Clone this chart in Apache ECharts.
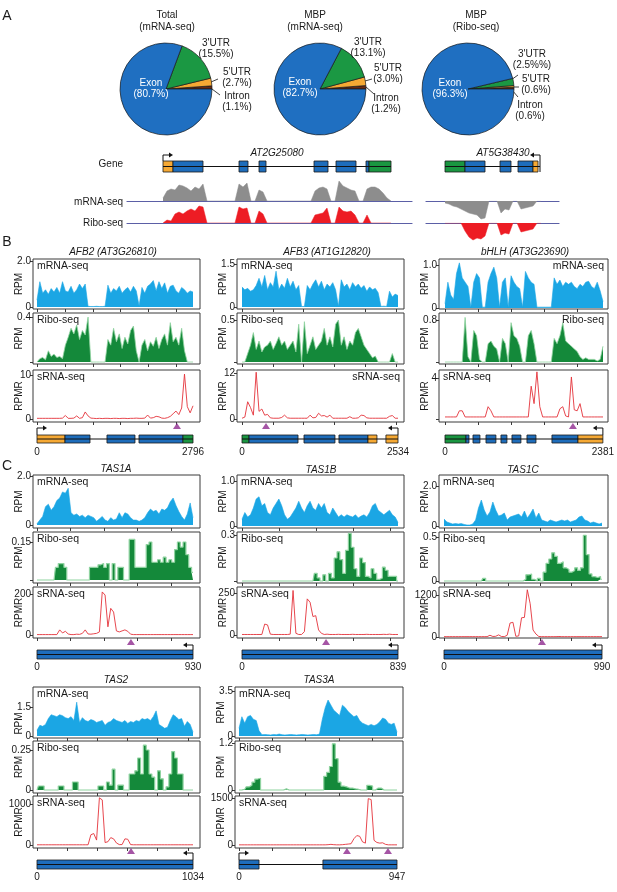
<!DOCTYPE html>
<html>
<head>
<meta charset="utf-8">
<title>Footprint coverage</title>
<script src="https://cdn.jsdelivr.net/npm/echarts@6.0.0/dist/echarts.min.js"></script>
<style>
  html, body { margin: 0; padding: 0; background: #fff; }
  #chart { width: 617px; height: 892px; }
</style>
</head>
<body>
<div id="chart"></div>
<script>
const FONT = '"Liberation Sans", Arial, Helvetica, sans-serif';

// ---- A: read fractions (%), order: Intron, 5'UTR, 3'UTR, Exon
const pieSlices = ['Intron', "5'UTR", "3'UTR", 'Exon'];
const pieTotal = [1.1, 2.7, 15.5, 80.7];
const pieMbpMrna = [1.2, 3.0, 13.1, 82.7];
const pieMbpRibo = [0.6, 0.6, 2.5, 96.3];

// ---- A: coverage of the two example genes, bins of 40 units
const at2g25080Mrna = [3, 10, 12, 11, 16, 15, 13, 10, 14, 12, 17, 0, 0, 0, 0, 0, 0, 0, 0, 17, 14, 18, 0, 0, 11, 9,
  0, 0, 0, 0, 0, 0, 0, 0, 0, 0, 0, 0, 10, 13, 14, 12, 0, 0, 20, 15, 13, 11, 10, 0, 0, 12, 14, 14, 12, 8, 3, 0];
const at2g25080Ribo = [0, 3, 2, 9, 11, 9, 12, 14, 12, 17, 16, 0, 0, 0, 0, 0, 0, 0, 0, 16, 14, 15, 0, 0, 12, 9,
  0, 0, 0, 0, 0, 0, 0, 0, 0, 0, 0, 0, 8, 9, 10, 15, 0, 0, 16, 12, 11, 12, 8, 0, 0, 8, 0, 0, 0, 0, 0, 0];
const at5g38430Mrna = [2, 3, 5, 6, 8, 10, 12, 13, 14, 18, 17, 0, 0, 0, 12, 8, 9, 0, 0, 8, 7, 6, 5, 0, 0];
const at5g38430Ribo = [0, 0, 0, 0, 0, 8, 14, 17, 15, 16, 13, 0, 0, 0, 12, 10, 11, 0, 0, 9, 8, 7, 6, 0, 0];
const at2g25080Exons = [[0, 100, 'utr5'], [100, 400, 'cds'], [760, 850, 'cds'], [960, 1030, 'cds'], [1510, 1650, 'cds'],
  [1730, 1930, 'cds'], [2030, 2060, 'cds'], [2060, 2280, 'utr3']];
const at5g38430Exons = [[0, 200, 'utr3'], [200, 400, 'cds'], [550, 660, 'cds'], [730, 880, 'cds'], [880, 930, 'utr5']];

// ---- B: AFB2, AFB3, bHLH (56 bins over the transcript)
const afb2Mrna = [0.3, 1.1, 0.6, 0.75, 0.55, 0.8, 0.65, 0.85, 0.6, 1.1, 0.7, 0.65, 0.9, 0.6, 0.75, 1.0, 0.8, 1.0,
  0.03, 0.02, 0.02, 0.03, 0.02, 0.02, 0.03, 0.95, 0.6, 0.8, 0.7, 0.9, 0.6, 0.75, 0.85, 0.65, 0.9, 0.7, 0.05,
  0.85, 0.6, 0.9, 1.0, 1.15, 0.7, 1.1, 0.8, 1.05, 0.6, 0.9, 0.95, 0.7, 0.6, 0.85, 0.75, 0.6, 0.7, 0.65];
const afb2Ribo = [0, 0.03, 0.04, 0.02, 0.1, 0.05, 0.07, 0.04, 0.05, 0.03, 0.15, 0.22, 0.3, 0.25, 0.33, 0.2, 0.28, 0.24, 0.4,
  0, 0, 0, 0, 0, 0, 0.2, 0.15, 0.3, 0.18, 0.25, 0.12, 0.22, 0.16, 0.28, 0.32, 0.1, 0,
  0.15, 0.2, 0.1, 0.18, 0.14, 0.22, 0.12, 0.2, 0.25, 0.15, 0.35, 0.18, 0.22, 0.15, 0.3, 0.1, 0, 0, 0];
const afb2Srna = [0.15, 0.15, 0.15, 0.15, 0.15, 0.15, 0.15, 0.15, 0.15, 0.2, 0.8, 0.15, 0.15, 0.2, 0.7, 0.15, 0.3, 1.6, 0.7, 0.2,
  0.15, 0.1, 0.15, 0.1, 0.15, 0.15, 0.1, 0.15, 0.15, 0.1, 0.15, 0.15, 0.1, 0.15, 0.15, 0.2, 0.15, 0.15, 0.2,
  0.9, 0.2, 0.3, 0.6, 0.5, 0.2, 0.15, 0.3, 0.6, 1.2, 1.8, 1.0, 2.5, 10.2, 2.8, 1.4, 3.0];
const afb3Mrna = [0.7, 0.6, 0.65, 0.55, 0.6, 0.75, 1.0, 0.7, 1.1, 0.6, 0.85, 0.7, 1.25, 0.6, 0.8, 0.65, 1.0, 0.7, 0.9, 0.6, 0.75,
  0.02, 0.02, 0.75, 0.6, 0.8, 0.95, 0.7, 0.9, 0.6, 0.8, 0.7, 0.85, 0.6, 0.03,
  0.95, 0.7, 0.8, 0.6, 0.85, 0.7, 0.8, 0.65, 0.75, 0.55, 0.7, 0.6, 0.65, 0.5, 0.02, 0.03, 0.02, 0.55, 0.35, 0.45, 0.4];
const afb3Ribo = [0, 0, 0.1, 0.2, 0.35, 0.15, 0.25, 0.12, 0.18, 0.2, 0.25, 0.15, 0.22, 0.3, 0.2, 0.25, 0.15, 0.2, 0.25, 0.12, 0.45,
  0, 0.48, 0.1, 0.2, 0.3, 0.15, 0.2, 0.25, 0.4, 0.2, 0.3, 0.18, 0.45, 0.5,
  0.2, 0.3, 0.15, 0.25, 0.2, 0.35, 0.4, 0.3, 0.2, 0.15, 0.1, 0.05, 0.07, 0, 0, 0, 0, 0, 0.1, 0, 0];
const afb3Srna = [0.2, 0.5, 4.5, 3.0, 1.0, 12.2, 2.0, 2.6, 1.0, 1.2, 0.3, 0.2, 0.2, 0.2, 0.4, 1.0, 0.3,
  0.2, 0.2, 0.2, 0.2, 0.2, 0.2, 0.2, 1.0, 0.3, 0.4, 1.5, 0.8, 0.9, 0.5, 1.0, 0.2,
  0.2, 0.2, 0.2, 0.2, 0.2, 0.6, 0.2, 0.2, 0.3, 1.0, 0.9, 0.3, 0.2, 0.2, 0.2, 0.2, 0.2, 0.2, 0.2, 0.7, 0.9, 0.2, 0.2];
const bhlhMrna = [0.1, 0.6, 0.3, 0.2, 0.8, 1.05, 0.7, 0.6, 0.5, 0.02, 0.6, 0.8, 0.7, 0.02, 0.02, 0.6, 0.8, 0.95, 0.7, 0.02,
  0.6, 0.7, 0.02, 0.75, 0.6, 0.5, 0.45, 0.02, 0.85, 0.7, 0.6, 0.55, 0.02, 0.02, 0.02, 0.02, 0.02, 0.02,
  0.7, 0.55, 0.65, 0.5, 0.6, 0.55, 0.6, 0.5, 0.45, 0.55, 0.5, 0.6, 0.62, 0.5, 0.45, 0.6, 0.4, 0.15];
const bhlhRibo = [0, 0, 0, 0, 0, 0, 0, 0.85, 0.1, 0, 0.6, 0.5, 0.05, 0, 0, 0.35, 0.4, 0.3, 0.25, 0, 0.45, 0.35, 0,
  0.75, 0.5, 0.45, 0.3, 0, 0, 0.5, 0.6, 0.35, 0, 0, 0, 0, 0, 0,
  0.45, 0.35, 0.5, 0.75, 0.4, 0.35, 0.3, 0.25, 0.2, 0.1, 0.05, 0.08, 0.05, 0.05, 0.05, 0.02, 0.05, 0.3];
const bhlhSrna = [0.2, 0.2, 0.2, 0.2, 0.2, 0.8, 0.8, 0.2, 0.2, 0.2, 0.2, 0.2, 0.2, 0.2, 0.2, 1.2, 0.8, 0.2,
  0.2, 0.2, 0.2, 0.2, 0.2, 0.2, 0.2, 0.2, 0.2, 0.2, 0.2, 0.2, 3.2, 1.5, 4.6, 1.2, 0.2,
  0.2, 0.2, 0.2, 0.2, 0.2, 1.0, 1.2, 0.3, 0.2, 4.1, 0.9, 0.8, 1.5, 0.2, 0.2, 0.2, 0.2, 0.2, 0.2, 0.2, 0.2];
const afb2Exons = [[0, 502, 'utr5'], [502, 950, 'cds'], [1254, 1756, 'cds'], [1828, 2616, 'cds'], [2616, 2796, 'utr3']];
const afb3Exons = [[0, 114, 'utr3'], [114, 910, 'cds'], [1007, 1510, 'cds'], [1575, 2046, 'cds'], [2046, 2192, 'utr5'], [2338, 2534, 'utr5']];
const bhlhExons = [[0, 316, 'utr3'], [316, 362, 'cds'], [422, 527, 'cds'], [618, 768, 'cds'], [844, 934, 'cds'],
  [1010, 1145, 'cds'], [1236, 1372, 'cds'], [1613, 2005, 'cds'], [2005, 2381, 'utr5']];
const afb2Sites = [2509];
const afb3Sites = [390];
const bhlhSites = [1929];

// ---- C: TAS loci
const tas1aMrna = [0.05, 0.2, 0.35, 0.75, 0.85, 0.6, 0.75, 1.0, 1.1, 1.35, 1.3, 1.5, 0.5, 0.4, 0.45, 0.35, 0.4, 0.3, 0.4, 0.35,
  0.3, 0.15, 0.25, 0.35, 0.2, 0.15, 0.3, 0.2, 0.25, 0.5, 0.3, 0.5, 0.45, 0.3, 0.2, 0.2, 0.15, 0.2, 0.3, 0.5,
  0.65, 0.55, 0.6, 0.45, 0.65, 0.6, 0.7, 0.95, 1.1, 0.8, 0.55, 0.35, 0.2, 0.45, 0.9, 0.3];
const tas1aRibo = [0, 0, 0, 0, 0, 0, 0, 0.05, 0.065, 0.065, 0.05, 0, 0, 0, 0, 0, 0, 0, 0,
  0.05, 0.05, 0.05, 0.06, 0.065, 0.05, 0.065, 0, 0.065, 0, 0.05, 0.05, 0, 0, 0.16, 0.16, 0.05, 0.05, 0.05, 0.05,
  0.14, 0.15, 0.07, 0.07, 0.08, 0.07, 0.09, 0.07, 0.08, 0.07, 0.12, 0.15, 0.13, 0.15, 0.1, 0.05, 0.03];
const tas1aSrna = [2, 2, 2, 2, 2, 2, 2, 2, 25, 10, 18, 5, 2, 2, 4, 3, 8, 25, 5, 4, 6, 8, 15, 210, 195, 40, 130, 112, 20, 15,
  20, 25, 18, 4, 2, 2, 2, 2, 2, 2, 2, 2, 2, 2, 2, 2, 2, 2, 2, 2, 2, 2, 2, 2, 2, 2];
const tas1bMrna = [0.15, 0.3, 0.2, 0.25, 0.4, 0.6, 0.65, 0.45, 0.5, 0.3, 0.25, 0.4, 0.5, 0.6, 0.45, 0.25, 0.15, 0.2, 0.3, 0.4,
  0.55, 0.4, 0.3, 0.45, 0.55, 0.4, 0.35, 0.5, 0.4, 0.5, 0.3, 0.25, 0.4, 0.3, 0.2, 0.25, 0.2, 0.25, 0.22, 0.2,
  0.25, 0.18, 0.22, 0.25, 0.2, 0.3, 0.45, 0.5, 0.35, 0.3, 0.25, 0.3, 0.35, 0.25, 0.2, 0.08];
const tas1bRibo = [0, 0, 0, 0, 0, 0, 0, 0, 0, 0, 0, 0, 0, 0, 0, 0, 0, 0, 0, 0, 0, 0, 0, 0, 0, 0,
  0.05, 0.02, 0, 0.04, 0, 0.05, 0.02, 0.15, 0.19, 0.14, 0.05, 0.2, 0.31, 0.22, 0.08, 0.03, 0.15, 0.12, 0.03, 0.02,
  0.08, 0.05, 0.01, 0.02, 0.09, 0.07, 0.03, 0.03, 0.03, 0];
const tas1bSrna = [3, 3, 3, 3, 3, 3, 3, 3, 65, 60, 5, 3, 3, 3, 3, 3, 3, 5, 265, 10, 3, 3, 20, 215, 195, 110, 115, 30, 10, 3, 5,
  3, 3, 3, 4, 3, 3, 3, 3, 4, 3, 3, 3, 3, 4, 3, 3, 3, 3, 3, 4, 3, 5, 3, 3, 3];
const tas1cMrna = [0.35, 0.2, 0.15, 0.1, 0.12, 0.1, 0.12, 0.08, 0.05, 0.05, 0.1, 0.3, 0.9, 1.3, 0.8, 0.5, 0.7, 1.2, 0.8, 0.5,
  0.55, 0.65, 0.3, 0.45, 0.5, 0.55, 0.6, 0.45, 0.75, 0.4, 0.6, 0.85, 0.4, 0.65, 0.3, 0.25, 0.2, 0.3, 0.25, 0.2,
  0.25, 0.3, 0.25, 0.3, 0.2, 0.25, 0.3, 0.45, 0.5, 0.3, 0.25, 0.15, 0.2, 0.15, 0.1, 0.15];
const tas1cRibo = [0, 0, 0, 0, 0, 0, 0, 0, 0, 0, 0, 0, 0, 0, 0.03, 0, 0, 0, 0, 0, 0, 0, 0, 0, 0, 0, 0, 0,
  0.02, 0.07, 0.08, 0.02, 0, 0.03, 0, 0.1, 0.2, 0.25, 0.32, 0.28, 0.2, 0.22, 0.15, 0.13, 0.1, 0.12, 0.15, 0.12,
  0.15, 0.52, 0.3, 0.08, 0.05, 0.04, 0.05, 0.02];
const tas1cSrna = [10, 10, 10, 10, 10, 10, 10, 10, 10, 10, 10, 10, 10, 10, 10, 10, 50, 15, 20, 60, 15, 10, 50, 400, 420, 20,
  30, 550, 560, 1350, 950, 200, 85, 15, 10, 10, 10, 10, 10, 10, 15, 10, 10, 10, 10, 10, 10, 10, 10, 10, 10, 10, 10, 10, 10, 10];
const tas2Mrna = [0.3, 0.55, 0.5, 0.6, 0.9, 1.1, 1.05, 1.0, 1.1, 1.05, 0.95, 0.9, 1.0, 0.8, 1.75, 0.7, 0.95, 0.8, 0.75, 0.85,
  0.8, 0.7, 0.75, 0.8, 0.55, 0.7, 0.75, 0.9, 0.8, 0.75, 0.7, 0.8, 0.65, 0.75, 0.7, 0.8, 0.75, 0.9, 0.85, 0.9,
  0.8, 1.0, 1.3, 0.6, 0.5, 0.4, 0.45, 0.8, 1.1, 1.0, 0.85, 0.9, 0.5, 0.75, 0.6, 0.2];
const tas2Ribo = [0, 0.025, 0.025, 0, 0, 0, 0, 0, 0.025, 0.025, 0, 0, 0, 0.05, 0.05, 0, 0, 0, 0, 0, 0, 0,
  0.025, 0.025, 0, 0.05, 0.03, 0.13, 0, 0.03, 0.03, 0, 0, 0.1, 0.1, 0.12, 0.2, 0.1, 0.28, 0.25, 0.1, 0.08, 0,
  0.12, 0.07, 0, 0.02, 0.1, 0.24, 0.2, 0.1, 0.1, 0, 0, 0, 0];
const tas2Srna = [5, 5, 5, 5, 5, 5, 5, 5, 5, 5, 5, 5, 5, 5, 5, 5, 5, 5, 5, 250, 280, 120, 1150, 1100, 60, 80, 180, 150, 50,
  10, 10, 150, 140, 10, 5, 5, 5, 5, 5, 5, 5, 5, 5, 5, 5, 5, 5, 5, 5, 5, 5, 5, 5, 5, 5, 5];
const tas3aMrna = [0.6, 1.5, 1.0, 1.5, 1.6, 1.3, 1.2, 0.4, 0.1, 0.12, 0.1, 0.08, 0.12, 0.1, 0.15, 0.1, 0.08, 0.1, 0.12, 0.1,
  0.08, 0.1, 0.12, 0.1, 0.08, 0.1, 0.12, 0.1, 0.15, 1.3, 2.2, 2.8, 2.4, 2.0, 1.8, 1.6, 2.4, 2.2, 1.9, 1.7,
  1.5, 1.6, 1.2, 1.0, 0.9, 0.8, 0.9, 0.8, 0.9, 1.1, 1.4, 1.3, 1.0, 0.9, 1.0, 0.3];
const tas3aRibo = [0, 0, 0.02, 0.08, 0.12, 0.2, 0.28, 0.3, 0, 0, 0, 0, 0, 0, 0, 0, 0.03, 0, 0, 0, 0, 0, 0, 0, 0, 0, 0, 0, 0, 0,
  0.35, 0.45, 0.6, 1.18, 0.8, 0.2, 0.1, 0.08, 0.05, 0.05, 0.03, 0.02, 0, 0, 0, 0.12, 0.1, 0, 0.05, 0.05, 0, 0, 0, 0, 0, 0];
const tas3aSrna = [5, 5, 5, 5, 5, 5, 5, 5, 5, 5, 5, 5, 5, 5, 5, 5, 5, 5, 5, 5, 5, 5, 5, 5, 5, 5, 5, 5, 5, 5, 5,
  10, 20, 10, 5, 5, 10, 20, 30, 40, 200, 300, 280, 100, 60, 1480, 1450, 150, 80, 60, 70, 20, 5, 5, 5, 5];
const tas1aExons = [[0, 930, 'cds']];
const tas1bExons = [[0, 839, 'cds']];
const tas1cExons = [[0, 990, 'cds']];
const tas2Exons = [[0, 1034, 'cds']];
const tas3aExons = [[0, 120, 'cds'], [503, 947, 'cds']];
const tas1aSites = [560];
const tas1bSites = [452];
const tas1cSites = [614];
const tas2Sites = [623];
const tas3aSites = [647, 893];

// ---------------- styling / layout ----------------
const C = {
  mrna: '#1ba6e4', ribo: '#14893a', riboEdge: '#8fd3a0', srna: '#e4323a',
  grey: '#8d8d8d', red: '#ed1c24', base: '#5b5fa6', frame: '#3a3a3a', text: '#1a1a1a', site: '#8e2a8f'
};
const EXON_COLORS = { utr5: '#f6a934', cds: '#1e6dbb', utr3: '#1a9641' };
const PIE_COLORS = ['#6b2a12', '#f6a934', '#1b9843', '#1f6fc1'];
const TRACK_NAMES = { mrna: 'mRNA-seq', ribo: 'Ribo-seq', srna: 'sRNA-seq' };

const option = {
  animation: false,
  textStyle: { fontFamily: FONT },
  grid: [], xAxis: [], yAxis: [], series: [], graphic: []
};

function addGrid(rect, xAx, yAx) {
  const i = option.grid.length;
  option.grid.push(Object.assign({ containLabel: false }, rect));
  option.xAxis.push(Object.assign({ gridIndex: i }, xAx));
  option.yAxis.push(Object.assign({ gridIndex: i }, yAx));
  return i;
}

function text(x, y, str, o = {}) {
  option.graphic.push({
    type: 'text', x, y, silent: true, z: 100,
    style: {
      text: str, fill: o.color || C.text, fontSize: o.size || 10, fontFamily: FONT,
      fontStyle: o.italic ? 'italic' : 'normal', align: o.align || 'center', verticalAlign: o.va || 'middle'
    }
  });
}

function seg(p, q) {
  option.graphic.push({ type: 'line', silent: true, shape: { x1: p[0], y1: p[1], x2: q[0], y2: q[1] },
    style: { stroke: '#111', lineWidth: 0.8 } });
}

function pairs(vals, len) {
  const n = vals.length - 1;
  return vals.map((v, i) => [i * len / n, v]);
}

// gene model: intron line, exons, TSS arrow, cleavage triangles
function geneModel(gi, len, exons, boxH, arrowY, arrow, sites, triY) {
  option.series.push({
    type: 'line', xAxisIndex: gi, yAxisIndex: gi, symbol: 'none', silent: true,
    data: [[0, boxH / 2], [len, boxH / 2]], lineStyle: { color: '#111', width: 1 }
  });
  option.series.push({
    type: 'custom', xAxisIndex: gi, yAxisIndex: gi, silent: true, clip: false,
    data: exons.map(e => [e[0], e[1], ['utr5', 'cds', 'utr3'].indexOf(e[2])]),
    renderItem: (params, api) => {
      const s = api.coord([api.value(0), 0]);
      const e = api.coord([api.value(1), boxH]);
      return {
        type: 'rect', shape: { x: s[0], y: e[1], width: e[0] - s[0], height: s[1] - e[1] },
        style: { fill: EXON_COLORS[['utr5', 'cds', 'utr3'][api.value(2)]], stroke: '#1a1a1a', lineWidth: 0.8 }
      };
    }
  });
  option.series.push({
    type: 'custom', xAxisIndex: gi, yAxisIndex: gi, silent: true, clip: false,
    data: [arrow],
    renderItem: (params, api) => {
      const dir = api.value(1);
      const p0 = api.coord([api.value(0), api.value(2)]);
      const p1 = api.coord([api.value(0), arrowY]);
      const x2 = p1[0] + dir * 6;
      return {
        type: 'group', children: [
          { type: 'polyline', shape: { points: [p0, p1, [x2, p1[1]]] }, style: { stroke: '#111', lineWidth: 1, fill: null } },
          { type: 'polygon', shape: { points: [[x2 + dir * 4, p1[1]], [x2, p1[1] - 2.5], [x2, p1[1] + 2.5]] }, style: { fill: '#111' } }
        ]
      };
    }
  });
  if (sites) {
    option.series.push({
      type: 'scatter', xAxisIndex: gi, yAxisIndex: gi, silent: true, clip: false,
      symbol: 'triangle', symbolSize: [8, 6], itemStyle: { color: C.site },
      data: sites.map(s => [s, triY])
    });
  }
}

// ---------------- A: pies ----------------
const pieLayout = [
  { vals: pieTotal, cx: 166, head: ['Total', '(mRNA-seq)'], hx: 167,
    lab: [[237, 96], [237, 72], [216, 43], [151, 83]],
    lead: [[[212, 89], [220, 95]], [[211, 82], [218, 79]]] },
  { vals: pieMbpMrna, cx: 320, head: ['MBP', '(mRNA-seq)'], hx: 315,
    lab: [[386, 98], [388, 68], [368, 42], [300, 82]],
    lead: [[[366, 87], [374, 94]], [[365, 81], [372, 79]]] },
  { vals: pieMbpRibo, cx: 468, head: ['MBP', '(Ribo-seq)'], hx: 476,
    lab: [[530, 105], [536, 79], [532, 54], [450, 83]],
    lead: [[[512, 90], [518, 97]], [[512, 87], [519, 87]], [[511, 80], [518, 75]]],
    typo: { 2: '(2.5%%)' } }
];
pieLayout.forEach(p => {
  option.series.push({
    type: 'pie', center: [p.cx, 89], radius: 46, startAngle: 0, clockwise: false, silent: true,
    label: { show: false }, labelLine: { show: false },
    itemStyle: { borderColor: '#1a1a1a', borderWidth: 0.7 },
    data: pieSlices.map((n, i) => ({ name: n, value: p.vals[i], itemStyle: { color: PIE_COLORS[i] } }))
  });
  text(p.hx, 15, p.head[0]);
  text(p.hx, 27, p.head[1]);
  pieSlices.forEach((n, i) => {
    const white = n === 'Exon';
    const pct = (p.typo && p.typo[i]) || '(' + p.vals[i].toFixed(1) + '%)';
    text(p.lab[i][0], p.lab[i][1], n, { color: white ? '#fff' : C.text });
    text(p.lab[i][0], p.lab[i][1] + 11.5, pct, { color: white ? '#fff' : C.text });
  });
  p.lead.forEach(l => seg(l[0], l[1]));
});
text(7, 16, 'A', { size: 14 });

// ---------------- A: gene tracks ----------------
const aGenes = [
  { name: 'AT2G25080', nx: 277, mrna: at2g25080Mrna, ribo: at2g25080Ribo, exons: at2g25080Exons, len: 2280,
    box: [127, 412], start: 163, reverse: false, arrow: [0, 1, 11] },
  { name: 'AT5G38430', nx: 503, mrna: at5g38430Mrna, ribo: at5g38430Ribo, exons: at5g38430Exons, len: 950,
    box: [426, 559], start: 445, reverse: true, arrow: [950, -1, 0] }
];
aGenes.forEach(g => {
  const xmin = (g.box[0] - g.start) * 10, xmax = (g.box[1] - g.start) * 10;
  const w = g.box[1] - g.box[0];
  const gi = addGrid({ left: g.box[0], top: 150, width: w, height: 22 },
    { type: 'value', min: xmin, max: xmax, show: false },
    { type: 'value', min: 0, max: 22, show: false });
  geneModel(gi, g.len, g.exons, 11, 17, g.arrow, null, 0);
  text(g.nx, 153, g.name, { italic: true });
  [[g.mrna, 201, C.grey], [g.ribo, 223, C.red]].forEach(([vals, baseY, col]) => {
    const ti = addGrid({ left: g.box[0], top: g.reverse ? baseY : baseY - 22, width: w, height: 22 },
      { type: 'value', min: xmin, max: xmax, position: g.reverse ? 'top' : 'bottom',
        axisLine: { show: true, onZero: false, lineStyle: { color: C.base, width: 1.2 } },
        axisTick: { show: false }, axisLabel: { show: false }, splitLine: { show: false } },
      { type: 'value', min: 0, max: 22, inverse: g.reverse, show: false });
    option.series.push({
      type: 'line', xAxisIndex: ti, yAxisIndex: ti, symbol: 'none', silent: true, z: 1,
      data: vals.map((v, i) => [i * 40, v]),
      lineStyle: { color: col, width: 0.5 }, areaStyle: { color: col, opacity: 1 }
    });
  });
});
text(123, 164, 'Gene', { align: 'right' });
text(123, 202, 'mRNA-seq', { align: 'right' });
text(123, 223, 'Ribo-seq', { align: 'right' });

// ---------------- B & C ----------------
const ROW_B = { tracks: [[259, 309], [313, 364], [370, 422]], gene: [422, 443], boxH: 8, arrowY: 15, triY: 17, margin: 4 };
const ROW_C1 = { tracks: [[475, 528], [532, 583], [587, 638]], gene: [638, 659], boxH: 9, arrowY: 14, triY: 17, margin: 3 };
const ROW_C2 = { tracks: [[687, 738], [741, 793], [796, 848]], gene: [848, 869], boxH: 9, arrowY: 16, triY: 18, margin: 3 };

const panels = [
  { title: 'AFB2 (AT3G26810)', tx: 113, ty: 252, row: ROW_B, box: [33, 200], span: [37, 193], len: 2796, tick: 500,
    exons: afb2Exons, sites: afb2Sites, tss: 0, blocky: false, tracks: [
      { vals: afb2Mrna, kind: 'mrna', top: '2.0', tt: 2, zb: 2, zero: true, side: 'left' },
      { vals: afb2Ribo, kind: 'ribo', top: '0.4', tt: 4, zb: 2, zero: false, side: 'left' },
      { vals: afb2Srna, kind: 'srna', top: '10', tt: 5, zb: 3, zero: true, side: 'left' }] },
  { title: 'AFB3 (AT1G12820)', tx: 327, ty: 252, row: ROW_B, box: [237, 404], span: [242, 398], len: 2534, tick: 500,
    exons: afb3Exons, sites: afb3Sites, tss: 2534, blocky: false, tracks: [
      { vals: afb3Mrna, kind: 'mrna', top: '1.5', tt: 5, zb: 2, zero: true, side: 'left' },
      { vals: afb3Ribo, kind: 'ribo', top: '0.5', tt: 7, zb: 2, zero: false, side: 'left' },
      { vals: afb3Srna, kind: 'srna', top: '12', tt: 3, zb: 3, zero: true, side: 'right' }] },
  { title: 'bHLH (AT3G23690)', tx: 525, ty: 252, row: ROW_B, box: [439, 608], span: [445, 603], len: 2381, tick: 500,
    exons: bhlhExons, sites: bhlhSites, tss: 2381, blocky: false, tracks: [
      { vals: bhlhMrna, kind: 'mrna', top: '1.0', tt: 6, zb: 1, zero: true, side: 'right' },
      { vals: bhlhRibo, kind: 'ribo', top: '0.8', tt: 7, zb: 2, zero: false, side: 'right' },
      { vals: bhlhSrna, kind: 'srna', top: '4', tt: 8, zb: 3, zero: false, side: 'left' }] },
  { title: 'TAS1A', tx: 116, ty: 469, row: ROW_C1, box: [33, 200], span: [37, 193], len: 930, tick: 200,
    exons: tas1aExons, sites: tas1aSites, tss: 930, blocky: true, tracks: [
      { vals: tas1aMrna, kind: 'mrna', top: '2.0', tt: 1, zb: 3, zero: true, side: 'left' },
      { vals: tas1aRibo, kind: 'ribo', top: '0.15', tt: 10, zb: 3, zero: false, side: 'left' },
      { vals: tas1aSrna, kind: 'srna', top: '200', tt: 7, zb: 3, zero: true, side: 'left' }] },
  { title: 'TAS1B', tx: 321, ty: 470, row: ROW_C1, box: [237, 404], span: [242, 398], len: 839, tick: 200,
    exons: tas1bExons, sites: tas1bSites, tss: 839, blocky: true, tracks: [
      { vals: tas1bMrna, kind: 'mrna', top: '1.0', tt: 6, zb: 2, zero: true, side: 'left' },
      { vals: tas1bRibo, kind: 'ribo', top: '0.3', tt: 3, zb: 2, zero: false, side: 'left' },
      { vals: tas1bSrna, kind: 'srna', top: '250', tt: 6, zb: 3, zero: true, side: 'left' }] },
  { title: 'TAS1C', tx: 523, ty: 470, row: ROW_C1, box: [439, 608], span: [444, 602], len: 990, tick: 200,
    exons: tas1cExons, sites: tas1cSites, tss: 990, blocky: true, tracks: [
      { vals: tas1cMrna, kind: 'mrna', top: '2.0', tt: 11, zb: 2, zero: true, side: 'left' },
      { vals: tas1cRibo, kind: 'ribo', top: '0.5', tt: 5, zb: 2, zero: true, side: 'left' },
      { vals: tas1cSrna, kind: 'srna', top: '1200', tt: 8, zb: 1, zero: true, side: 'left' }] },
  { title: 'TAS2', tx: 116, ty: 680, row: ROW_C2, box: [33, 200], span: [37, 193], len: 1034, tick: 200,
    exons: tas2Exons, sites: tas2Sites, tss: 1034, blocky: true, tracks: [
      { vals: tas2Mrna, kind: 'mrna', top: '1.5', tt: 20, zb: 2, zero: true, side: 'left', nameDown: 11 },
      { vals: tas2Ribo, kind: 'ribo', top: '0.25', tt: 9, zb: 3, zero: true, side: 'left' },
      { vals: tas2Srna, kind: 'srna', top: '1000', tt: 8, zb: 3, zero: true, side: 'left' }] },
  { title: 'TAS3A', tx: 319, ty: 680, row: ROW_C2, box: [235, 403], span: [239, 397], len: 947, tick: 200,
    exons: tas3aExons, sites: tas3aSites, tss: 0, blocky: true, tracks: [
      { vals: tas3aMrna, kind: 'mrna', top: '3.5', tt: 4, zb: 2, zero: true, side: 'left' },
      { vals: tas3aRibo, kind: 'ribo', top: '1.2', tt: 2, zb: 3, zero: true, side: 'left' },
      { vals: tas3aSrna, kind: 'srna', top: '1500', tt: 2, zb: 3, zero: true, side: 'left' }] }
];

function trackSeries(t, gi, data, blocky) {
  const s = { type: 'line', xAxisIndex: gi, yAxisIndex: gi, data, symbol: 'none', silent: true };
  if (t.kind === 'mrna') {
    s.lineStyle = { color: C.mrna, width: 0.6 };
    s.areaStyle = { color: C.mrna, opacity: 1 };
  } else if (t.kind === 'ribo') {
    if (blocky) { s.step = 'middle'; s.lineStyle = { color: C.riboEdge, width: 1.2 }; }
    else s.lineStyle = { color: C.riboEdge, width: 0.8 };
    s.areaStyle = { color: C.ribo, opacity: 1 };
  } else {
    s.lineStyle = { color: C.srna, width: 0.9 };
  }
  return s;
}

panels.forEach(p => {
  const R = p.row;
  const bpp = p.len / (p.span[1] - p.span[0]);
  const xmin = -(p.span[0] - p.box[0]) * bpp;
  const xmax = p.len + (p.box[1] - p.span[1]) * bpp;
  const w = p.box[1] - p.box[0];
  const ticks = [];
  for (let t = 0; t <= p.len; t += p.tick) ticks.push(t);
  text(p.tx, p.ty, p.title, { italic: true });

  p.tracks.forEach((t, k) => {
    const [top, bottom] = R.tracks[k];
    const H = bottom - top;
    const topVal = parseFloat(t.top);
    const unit = (H - t.tt - t.zb) / topVal;
    const down = t.nameDown || 0;
    const gi = addGrid(
      { left: p.box[0], top, width: w, height: H, show: true, borderColor: C.frame, borderWidth: 1, backgroundColor: 'transparent' },
      { type: 'value', min: xmin, max: xmax, axisLine: { show: false, onZero: false }, splitLine: { show: false },
        axisLabel: { show: false },
        axisTick: { show: true, customValues: ticks, length: 3, lineStyle: { color: C.frame } } },
      { type: 'value', min: -t.zb / unit, max: topVal + t.tt / unit,
        axisLine: { show: false, onZero: false }, splitLine: { show: false },
        axisTick: { show: true, customValues: [0, topVal], length: 3, lineStyle: { color: C.frame } },
        axisLabel: { customValues: t.zero ? [0, topVal] : [topVal], formatter: v => (v === 0 ? '0' : t.top),
          fontSize: 10, color: C.text, margin: 2 },
        name: t.kind === 'srna' ? 'RPMR' : 'RPM', nameLocation: 'middle', nameGap: 9, nameMoveOverlap: false,
        nameTextStyle: { fontSize: 10, color: C.text, padding: [0, down * 2, 0, 0] } });
    option.series.push(trackSeries(t, gi, pairs(t.vals, p.len), p.blocky));
    if (t.side === 'left') text(p.box[0] + 4, top + 2, TRACK_NAMES[t.kind], { align: 'left', va: 'top', size: 10.5 });
    else text(p.box[1] - 4, top + 2, TRACK_NAMES[t.kind], { align: 'right', va: 'top', size: 10.5 });
  });

  const [gTop, gBottom] = R.gene;
  const gi = addGrid({ left: p.box[0], top: gTop, width: w, height: gBottom - gTop },
    { type: 'value', min: xmin, max: xmax, axisLine: { show: false, onZero: false }, axisTick: { show: false },
      splitLine: { show: false },
      axisLabel: { customValues: [0, p.len], formatter: v => String(v), fontSize: 10, color: C.text, margin: R.margin } },
    { type: 'value', min: 0, max: gBottom - gTop, show: false });
  const dir = p.tss === 0 ? 1 : -1;
  geneModel(gi, p.len, p.exons, R.boxH, R.arrowY, [p.tss, dir, R.boxH], p.sites, R.triY);
});
text(7, 242, 'B', { size: 14 });
text(7, 466, 'C', { size: 14 });

const chart = echarts.init(document.getElementById('chart'));
chart.setOption(option);
window.onresize = function () { chart.resize(); };
</script>
</body>
</html>
